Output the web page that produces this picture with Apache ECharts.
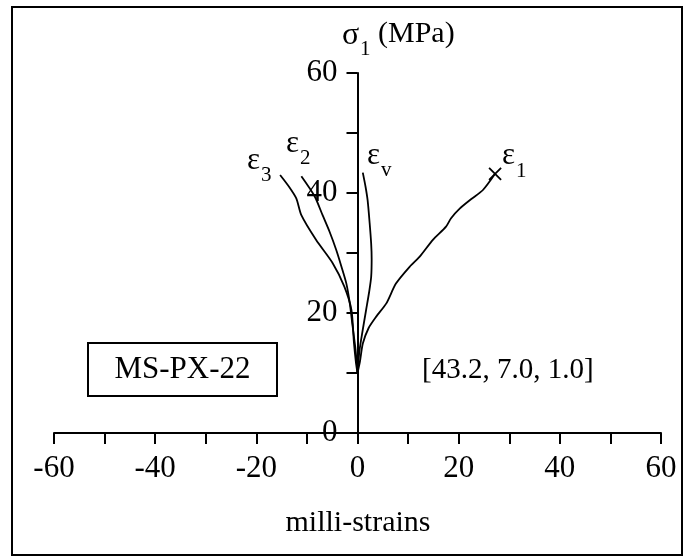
<!DOCTYPE html>
<html>
<head>
<meta charset="utf-8">
<script src="https://cdn.jsdelivr.net/npm/echarts@6/dist/echarts.min.js"></script>
<style>html,body{margin:0;padding:0;background:#fff;}#c{width:684px;height:557px;}</style>
</head>
<body>
<div id="c"></div>
<script>
// Data (milli-strains, sigma1 MPa)
const eps1 = [[0,10],[0.5,12],[1.05,14.9],[2.2,17.5],[3.7,19.4],[5.7,21.6],[7.6,24.9],[10.3,27.7],[12.3,29.4],[14.9,32.2],[17.5,34.4],[18.5,35.8],[20.2,37.4],[22.5,39.0],[24.8,40.5],[27.2,43.2]];
const eps2 = [[0,10],[-0.4,14],[-1.0,18],[-1.5,21.5],[-2.2,24.9],[-3.2,27.8],[-4.2,30.5],[-5.5,33.5],[-6.9,36.3],[-8.5,39.5],[-11.1,42.8]];
const eps3 = [[0,10],[-0.3,11.7],[-0.7,15],[-1.2,20.5],[-2.6,24.4],[-4.9,28.3],[-8.2,32.2],[-11.1,36.3],[-12.1,39.1],[-13.5,41.0],[-15.3,43.0]];
const epsV = [[0,10],[0.4,13.8],[1.0,17],[1.7,20.5],[2.3,23.5],[2.7,26],[2.8,29],[2.7,31.6],[2.4,35],[2.0,38.8],[1.6,41],[1.05,43.4]];
const xTicks = [-60,-40,-20,0,20,40,60];
const yTicks = [0,20,40,60];
const sampleName = 'MS-PX-22';
const stressInfo = '[43.2, 7.0, 1.0]';

const F = '"Liberation Serif", "Times New Roman", serif';
const chart = echarts.init(document.getElementById('c'));

function lineSeries(data, withX) {
  return {
    type: 'line', data: data, smooth: 0.25, showSymbol: false,
    symbol: 'none',
    lineStyle: {color: '#000', width: 1.8},
    silent: true, animation: false,
    markPoint: withX ? {
      symbol: 'path://M0,0L10,10M10,0L0,10', symbolSize: 12,
      itemStyle: {color: 'none', borderColor: '#000', borderWidth: 1.8},
      label: {show: false},
      data: [{coord: data[data.length - 1]}]
    } : undefined
  };
}

function epsLabel(x, y, sub, subDy) {
  return [
    {type: 'text', left: x, top: y, style: {text: 'ε', font: '31px ' + F, fill: '#000'}},
    {type: 'text', left: x + 14, top: y + subDy, style: {text: sub, font: '21px ' + F, fill: '#000'}}
  ];
}

const option = {
  animation: false,
  backgroundColor: '#fff',
  grid: {left: 54, right: 23, top: 73, bottom: 124},
  xAxis: {
    type: 'value', min: -60, max: 60, interval: 10,
    axisLine: {onZero: false, lineStyle: {color: '#000', width: 2}},
    axisTick: {show: true, length: 11, lineStyle: {color: '#000', width: 2}},
    splitLine: {show: false},
    axisLabel: {
      color: '#000', fontFamily: F, fontSize: 31, margin: 20,
      formatter: v => xTicks.includes(v) ? String(v) : ''
    }
  },
  yAxis: {
    type: 'value', min: 0, max: 60, interval: 10,
    position: 'left', offset: -303.5,
    axisLine: {onZero: false, lineStyle: {color: '#000', width: 2}},
    axisTick: {show: true, length: 11, lineStyle: {color: '#000', width: 2}},
    splitLine: {show: false},
    axisLabel: {
      color: '#000', fontFamily: F, fontSize: 31, margin: 20,
      formatter: v => yTicks.includes(v) ? String(v) : ''
    }
  },
  series: [lineSeries(eps1, true), lineSeries(eps2, false), lineSeries(eps3, false), lineSeries(epsV, false)],
  graphic: [
    {type: 'rect', shape: {x: 12, y: 7, width: 670, height: 548}, style: {fill: 'none', stroke: '#000', lineWidth: 2}, silent: true},
    {type: 'text', left: 342, top: 20, style: {text: 'σ', font: '32px ' + F, fill: '#000'}},
    {type: 'text', left: 360, top: 39, style: {text: '1', font: '21px ' + F, fill: '#000'}},
    {type: 'text', left: 378, top: 19, style: {text: '(MPa)', font: '30px ' + F, fill: '#000'}},
    {type: 'rect', shape: {x: 88, y: 343, width: 189, height: 53}, style: {fill: '#fff', stroke: '#000', lineWidth: 2}},
    {type: 'text', x: 182.5, y: 370, style: {text: sampleName, font: '31px ' + F, fill: '#000', align: 'center', verticalAlign: 'middle'}},
    {type: 'text', x: 422, y: 370, style: {text: stressInfo, font: '29px ' + F, fill: '#000', align: 'left', verticalAlign: 'middle'}},
    {type: 'text', x: 358, y: 523, style: {text: 'milli-strains', font: '30px ' + F, fill: '#000', align: 'center', verticalAlign: 'middle'}}
  ].concat(epsLabel(247, 145, '3', 20), epsLabel(286, 128, '2', 20), epsLabel(367, 140, 'v', 20), epsLabel(502, 140, '1', 21))
};
chart.setOption(option);
</script>
</body>
</html>
